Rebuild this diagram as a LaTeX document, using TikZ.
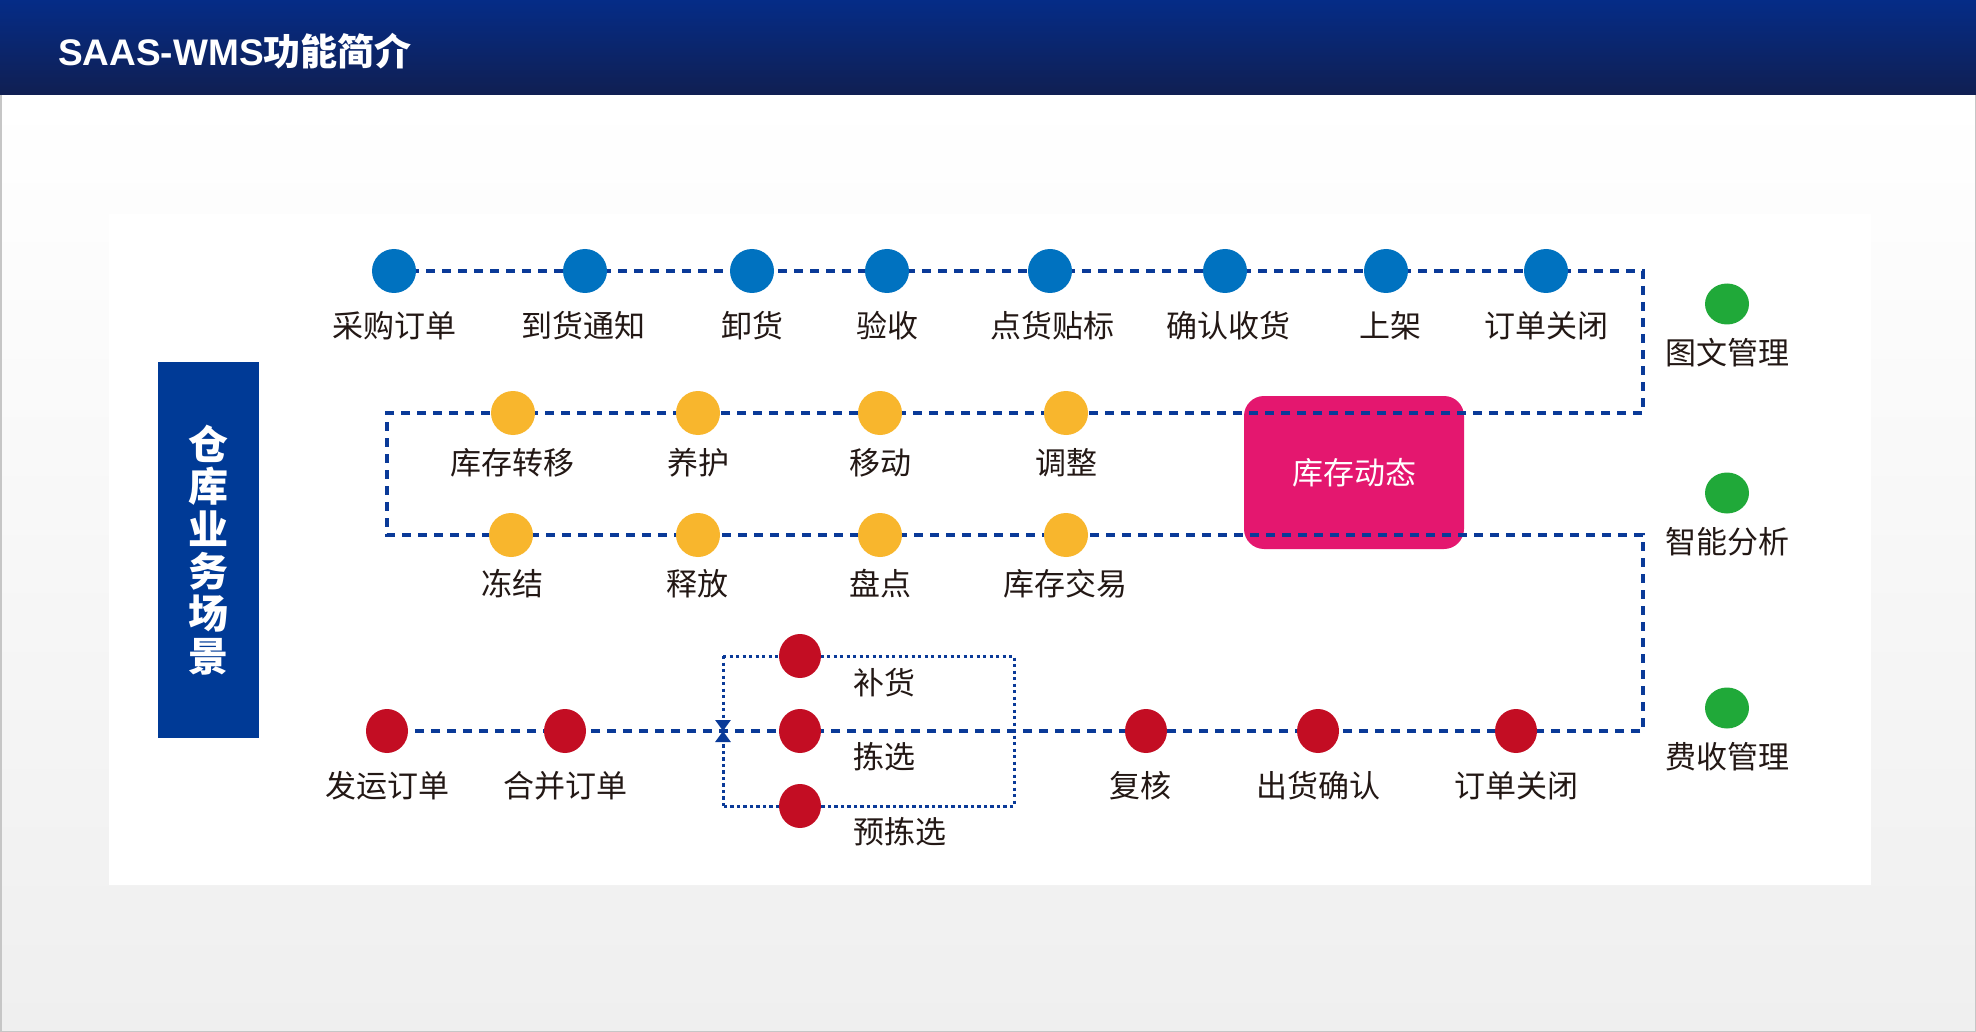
\documentclass[tikz,border=0pt]{standalone}
\usepackage{fontspec}
\setmainfont{Liberation Sans}
\newfontfamily\cjk{Noto Sans CJK SC}
\usetikzlibrary{arrows.meta,shapes.geometric}
\definecolor{dotblue}{RGB}{0,114,192}
\definecolor{dotyellow}{RGB}{248,182,45}
\definecolor{dotred}{RGB}{195,13,35}
\definecolor{dotgreen}{RGB}{32,169,57}
\definecolor{mag}{RGB}{228,23,111}
\definecolor{linec}{RGB}{10,58,152}
\definecolor{boxblue}{RGB}{0,58,150}
\definecolor{txt}{RGB}{35,24,21}
\definecolor{hdtop}{RGB}{5,44,135}
\definecolor{hdbot}{RGB}{16,31,82}
\definecolor{bgbot}{RGB}{239,239,239}
\pgfdeclarelayer{bg}
\pgfdeclarelayer{lines}
\pgfsetlayers{bg,lines,main}
\tikzset{
  dot/.style={ellipse, minimum width=44pt, minimum height=44pt, inner sep=0pt, draw=none},
  bdot/.style={dot, fill=dotblue},
  ydot/.style={dot, fill=dotyellow},
  rdot/.style={dot, fill=dotred, minimum width=42pt},
  gdot/.style={dot, fill=dotgreen, minimum height=41pt},
  lbl/.style={font=\cjk\fontsize{31}{36}\selectfont, text=txt, inner sep=0pt},
  flow/.style={draw=linec, line width=3.4pt, dash pattern=on 9pt off 7pt},
  branch/.style={draw=linec, line width=3pt, dash pattern=on 3.3pt off 3.2pt},
  tip/.style={-{Triangle[width=15pt,length=11pt]}},
}
\begin{document}
\begin{tikzpicture}[x=1pt,y=-1pt]
\useasboundingbox (0,0) rectangle (1976,1032);
\begin{pgfonlayer}{bg}
  \shade[top color=white, bottom color=bgbot] (0,95) rectangle (1976,1032);
  \draw[gray!45, line width=1.5pt] (0.75,95) -- (0.75,1031.25) -- (1975.25,1031.25) -- (1975.25,95);
  \shade[top color=hdtop, bottom color=hdbot] (0,0) rectangle (1976,95);
  \fill[white] (109,214) rectangle (1871,885);
  \node[fill=mag, rounded corners=20pt, minimum width=220pt, minimum height=153pt, inner sep=0pt,
        font=\cjk\fontsize{31}{36}\selectfont, text=white] (dyn) at (1354,472.5) {库存动态};
\end{pgfonlayer}

% title
\node[anchor=west, inner sep=0pt, text=white, font=\bfseries\fontsize{37}{40}\selectfont] (title) at (58,51)
  {SAAS-WMS{\cjk\bfseries 功能简介}};

% left vertical box
\node[fill=boxblue, minimum width=101pt, minimum height=376pt, inner sep=0pt] (scene) at (208,550) {};
\node[text=white, align=center, inner sep=0pt, font=\cjk\bfseries\fontsize{40}{42.4}\selectfont] (scenetxt) at (208,550)
  {仓\\库\\业\\务\\场\\景};

% blue row
\node[bdot] (b1) at (394,271) {};
\node[bdot] (b2) at (585,271) {};
\node[bdot] (b3) at (752,271) {};
\node[bdot] (b4) at (887,271) {};
\node[bdot] (b5) at (1050,271) {};
\node[bdot] (b6) at (1225,271) {};
\node[bdot] (b7) at (1386,271) {};
\node[bdot] (b8) at (1546,271) {};
\node[lbl] (lb1) at (394,326) {采购订单};
\node[lbl] (lb2) at (583,326) {到货通知};
\node[lbl] (lb3) at (752,326) {卸货};
\node[lbl] (lb4) at (887,326) {验收};
\node[lbl] (lb5) at (1052,326) {点货贴标};
\node[lbl] (lb6) at (1228,326) {确认收货};
\node[lbl] (lb7) at (1390,326) {上架};
\node[lbl] (lb8) at (1546,326) {订单关闭};

% yellow rows
\node[ydot] (y1) at (513,413) {};
\node[ydot] (y2) at (698,413) {};
\node[ydot] (y3) at (880,413) {};
\node[ydot] (y4) at (1066,413) {};
\node[lbl] (ly1) at (512,463) {库存转移};
\node[lbl] (ly2) at (698,463) {养护};
\node[lbl] (ly3) at (880,463) {移动};
\node[lbl] (ly4) at (1066,463) {调整};
\node[ydot] (z1) at (511,535) {};
\node[ydot] (z2) at (698,535) {};
\node[ydot] (z3) at (880,535) {};
\node[ydot] (z4) at (1066,535) {};
\node[lbl] (lz1) at (512,584) {冻结};
\node[lbl] (lz2) at (697,584) {释放};
\node[lbl] (lz3) at (880,584) {盘点};
\node[lbl] (lz4) at (1065,584) {库存交易};

% red row
\node[rdot] (r1) at (387,731) {};
\node[rdot] (r2) at (565,731) {};
\node[rdot] (p1) at (800,656) {};
\node[rdot] (p2) at (800,731) {};
\node[rdot] (p3) at (800,806) {};
\node[rdot] (r3) at (1146,731) {};
\node[rdot] (r4) at (1318,731) {};
\node[rdot] (r5) at (1516,731) {};
\node[lbl] (lr1) at (387,786) {发运订单};
\node[lbl] (lr2) at (565,786) {合并订单};
\node[lbl] (lp1) at (884,683) {补货};
\node[lbl] (lp2) at (884,757) {拣选};
\node[lbl] (lp3) at (900,832) {预拣选};
\node[lbl] (lr3) at (1140,786) {复核};
\node[lbl] (lr4) at (1318,786) {出货确认};
\node[lbl] (lr5) at (1516,786) {订单关闭};

% green column
\node[gdot] (g1) at (1727,304) {};
\node[gdot] (g2) at (1727,493) {};
\node[gdot] (g3) at (1727,708) {};
\node[lbl] (lg1) at (1727,353) {图文管理};
\node[lbl] (lg2) at (1727,542) {智能分析};
\node[lbl] (lg3) at (1727,757) {费收管理};

% connector corners
\coordinate (c1) at (1643,271);
\coordinate (c2) at (1643,413);
\coordinate (c3) at (387,413);
\coordinate (c4) at (387,535);
\coordinate (c5) at (1643,535);
\coordinate (c6) at (1643,731);
\coordinate (tl) at (723,656);
\coordinate (tr) at (1014,656);
\coordinate (br) at (1014,806);
\coordinate (bl) at (723,806);
\coordinate (jl) at (723,731);

\begin{pgfonlayer}{lines}
  \draw[flow] (b1.center) -- (b8.center) -- (c1) -- (c2) -- (c3) -- (c4) -- (c5) -- (c6) -- (r1.center);
  \draw[branch] (tl) -- (tr) -- (br) -- (bl);
  \draw[branch, tip] (tl) -- (jl);
  \draw[branch, tip] (bl) -- (jl);
\end{pgfonlayer}
\end{tikzpicture}
\end{document}
